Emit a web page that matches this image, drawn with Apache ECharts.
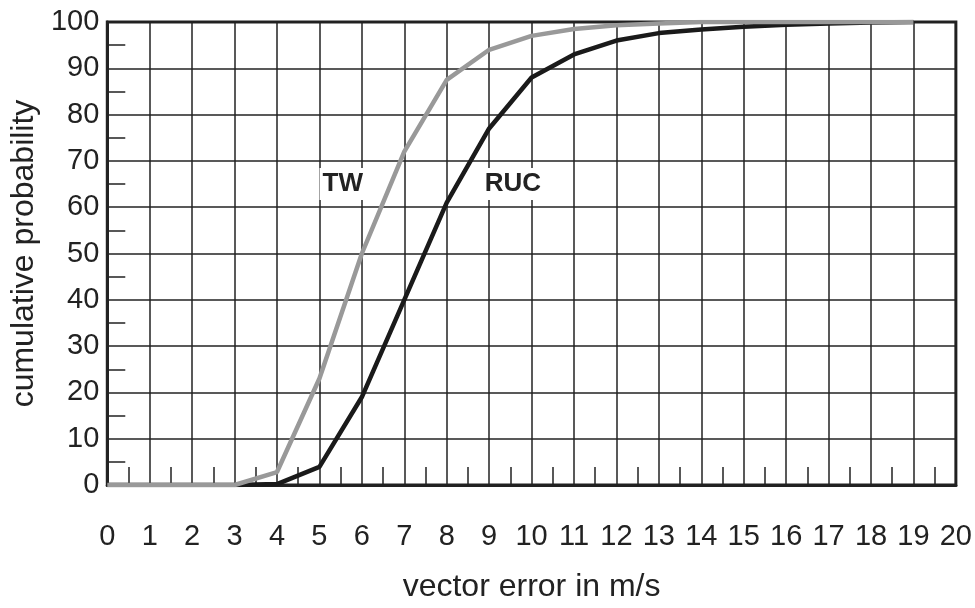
<!DOCTYPE html>
<html><head><meta charset="utf-8">
<script src="https://cdn.jsdelivr.net/npm/echarts@6/dist/echarts.min.js"></script>
<style>html,body{margin:0;padding:0;background:#fff}#c{width:975px;height:608px}</style>
</head><body><div id="c"></div>
<script>
const xValues = [0,1,2,3,4,5,6,7,8,9,10,11,12,13,14,15,16,17,18,19];
const twValues = [0,0,0,0,2.8,23,50,72,87.5,94,97,98.5,99.3,99.7,100,100,100,100,100,100];
const rucValues = [0,0,0,0,0.2,3.9,19,40,61,77,88,93,96,97.6,98.4,99,99.4,99.7,99.9,100];
const xTicks = {min:0, max:20, interval:1};
const yTicks = {min:0, max:100, interval:10};
const labelTW = {name:'TW', x:5.55, y:65};
const labelRUC = {name:'RUC', x:9.56, y:65};

const font = 'Liberation Sans, Arial, sans-serif';
const dark = '#222';
const chart = echarts.init(document.getElementById('c'));
function pairs(v){ return xValues.map((x,i)=>[x,v[i]]); }
function lbl(o){
  return {coord:[o.x,o.y], value:o.name, symbolSize:0,
    label:{show:true, position:'inside', formatter:o.name, color:dark, fontFamily:font,
      fontWeight:'bold', fontSize:26, backgroundColor:'#fff', padding:[3,3,3,3]}};
}
chart.setOption({
  animation:false,
  grid:{left:91, right:18, top:22, bottom:120, show:true, borderColor:dark, borderWidth:3, backgroundColor:'transparent'},
  xAxis:{type:'value', min:xTicks.min, max:xTicks.max, interval:xTicks.interval,
    name:'vector error in m/s', nameLocation:'middle', nameGap:86,
    nameTextStyle:{fontFamily:font, fontSize:32, color:dark},
    axisLine:{show:true, lineStyle:{color:dark, width:3}},
    axisTick:{show:false, inside:true},
    minorTick:{show:true, splitNumber:2, length:18, lineStyle:{color:dark, width:1.5}},
    axisLabel:{fontFamily:font, fontSize:29, color:dark, margin:37},
    splitLine:{show:true, lineStyle:{color:dark, width:1.5}}},
  yAxis:{type:'value', min:yTicks.min, max:yTicks.max, interval:yTicks.interval,
    name:'cumulative probability', nameLocation:'middle', nameGap:55,
    nameTextStyle:{fontFamily:font, fontSize:32, color:dark},
    axisLine:{show:true, lineStyle:{color:dark, width:3}},
    axisTick:{show:false, inside:true},
    minorTick:{show:true, splitNumber:2, length:18, lineStyle:{color:dark, width:1.5}},
    axisLabel:{fontFamily:font, fontSize:29, color:dark, margin:8},
    splitLine:{show:true, lineStyle:{color:dark, width:1.5}}},
  series:[
    {name:'RUC', type:'line', data:pairs(rucValues), symbol:'none',
      lineStyle:{color:'#1a1a1a', width:4.5}, z:3,
      markPoint:{data:[lbl(labelRUC)], symbol:'rect'}},
    {name:'TW', type:'line', data:pairs(twValues), symbol:'none',
      lineStyle:{color:'#999', width:4.5}, z:4,
      markPoint:{data:[lbl(labelTW)], symbol:'rect'}}
  ]
});
</script></body></html>
